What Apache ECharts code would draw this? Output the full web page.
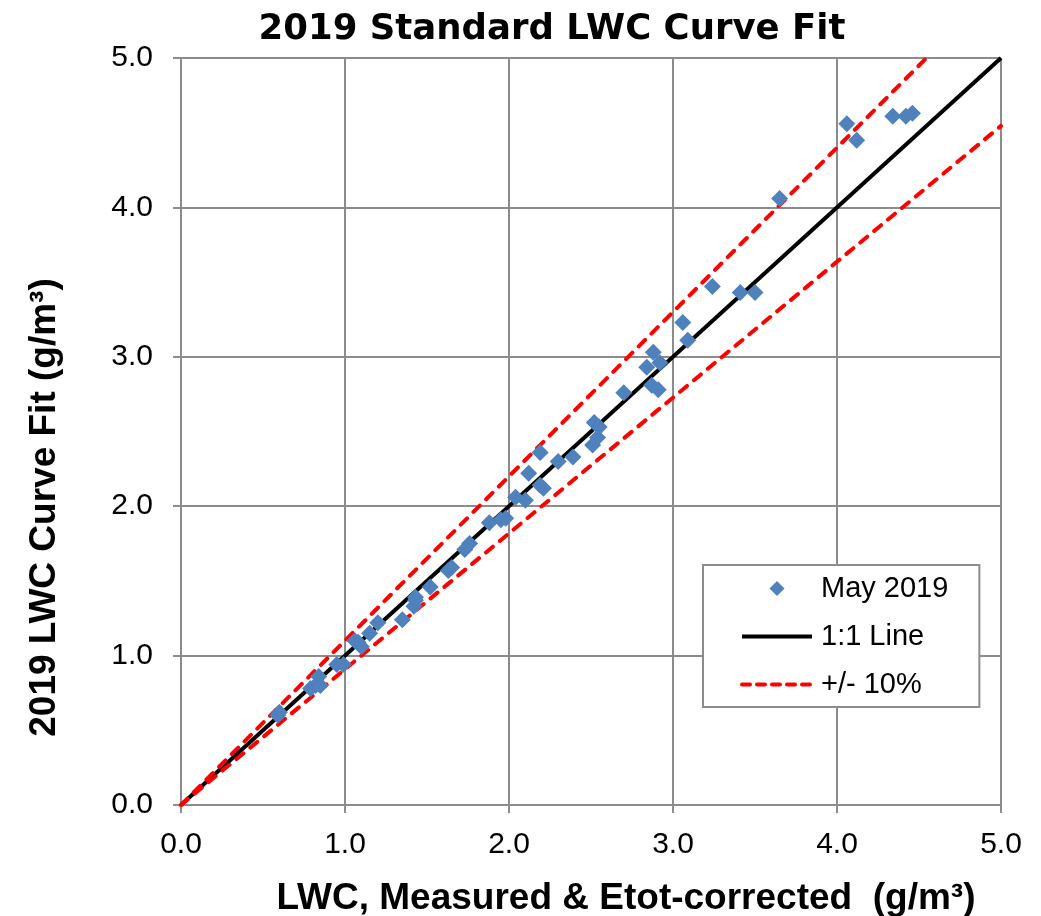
<!DOCTYPE html>
<html><head><meta charset="utf-8">
<script src="https://cdn.jsdelivr.net/npm/echarts@6/dist/echarts.min.js"></script>
<style>html,body{margin:0;padding:0;background:#fff}#c{width:1041px;height:916px}</style>
</head><body><div id="c"></div>
<script>
const measured = [0.60,0.59,0.79,0.82,0.85,0.84,0.95,0.99,1.06,1.08,1.10,1.15,1.20,1.35,1.42,1.43,1.43,1.52,1.63,1.65,1.73,1.76,1.88,1.95,1.98,2.04,2.10,2.12,2.19,2.19,2.21,2.30,2.39,2.51,2.54,2.52,2.55,2.70,2.84,2.88,2.92,2.87,2.91,3.06,3.09,3.24,3.41,3.50,3.65,4.06,4.12,4.34,4.42,4.46];
const curveFit = [0.62,0.60,0.78,0.80,0.80,0.86,0.94,0.94,1.10,1.09,1.06,1.15,1.22,1.24,1.33,1.37,1.39,1.46,1.57,1.59,1.71,1.75,1.89,1.91,1.92,2.06,2.04,2.22,2.36,2.14,2.12,2.30,2.33,2.41,2.46,2.56,2.53,2.76,2.93,3.03,2.96,2.81,2.78,3.23,3.11,3.47,3.43,3.43,4.06,4.56,4.45,4.61,4.61,4.63];
const lineX = [0, 5];

const pts = measured.map((x,i)=>[x, curveFit[i]]);
const oneToOne = lineX.map(x=>[x, x]);
const upper = lineX.map(x=>[x, x*1.1]);
const lower = lineX.map(x=>[x, x/1.1]);

const chart = echarts.init(document.getElementById('c'));
const font = 'Liberation Sans, Arial, sans-serif';
const dash = {color:'#ff0000', width:4, type:[9,9], cap:'round'};
chart.setOption({
  animation:false,
  title:{text:'2019 Standard LWC Curve Fit', left:552, textAlign:'center', top:12, padding:0,
    textStyle:{fontFamily:'DejaVu Sans, sans-serif', fontWeight:'bold', fontSize:35.5, color:'#000'}},
  grid:{left:181, right:40, top:58, bottom:111, containLabel:false, outerBoundsMode:'none'},
  xAxis:{type:'value', min:0, max:5, interval:1,
    name:'LWC, Measured & Etot-corrected  (g/m³)', nameLocation:'middle', nameGap:75,
    nameTextStyle:{fontFamily:font, fontWeight:'bold', fontSize:37, color:'#000', padding:[0,0,0,70]},
    axisLine:{lineStyle:{color:'#8c8c8c', width:2}},
    axisTick:{show:true, length:8, lineStyle:{color:'#8c8c8c', width:2}},
    axisLabel:{fontFamily:font, fontSize:30, color:'#000', margin:25, formatter:v=>v.toFixed(1)},
    splitLine:{show:true, lineStyle:{color:'#8c8c8c', width:2}}},
  yAxis:{type:'value', min:0, max:5, interval:1,
    name:'2019 LWC Curve Fit (g/m³)', nameLocation:'middle', nameGap:118,
    nameTextStyle:{fontFamily:font, fontWeight:'bold', fontSize:37, color:'#000', padding:[0,152,0,0]},
    axisLine:{show:true, lineStyle:{color:'#8c8c8c', width:2}},
    axisTick:{show:true, length:8, lineStyle:{color:'#8c8c8c', width:2}},
    axisLabel:{fontFamily:font, fontSize:30, color:'#000', margin:28, formatter:v=>v.toFixed(1)},
    splitLine:{show:true, lineStyle:{color:'#8c8c8c', width:2}}},
  legend:{left:703, top:565, orient:'vertical', itemGap:17,
    borderColor:'#8c8c8c', borderWidth:2, padding:[8,31,7,37],
    itemWidth:70, itemHeight:15, backgroundColor:'#fff', symbolKeepAspect:true,
    textStyle:{fontFamily:font, fontSize:29, lineHeight:31, color:'#000', padding:[0,0,0,4]},
    data:[{name:'May 2019', icon:'path://M0,-1L1,0L0,1L-1,0Z'},
          {name:'1:1 Line', itemStyle:{opacity:0}, lineStyle:{color:'#000', width:4}},
          {name:'+/- 10%', itemStyle:{opacity:0}, lineStyle:{color:'#ff0000', width:4, type:[8,7], cap:'round'}}]},
  series:[
    {name:'1:1 Line', type:'line', data:oneToOne, symbol:'none', lineStyle:{color:'#000', width:4}, itemStyle:{color:'#000'}, z:3},
    {name:'+/- 10%', type:'line', data:upper, symbol:'none', lineStyle:dash, itemStyle:{color:'#ff0000'}, z:4},
    {name:'+/- 10%', type:'line', data:lower, symbol:'none', lineStyle:dash, itemStyle:{color:'#ff0000'}, z:4},
    {name:'May 2019', type:'scatter', data:pts, symbol:'diamond', symbolSize:17, itemStyle:{color:'#4F81BD', opacity:1}, z:5}
  ]
});
</script></body></html>
